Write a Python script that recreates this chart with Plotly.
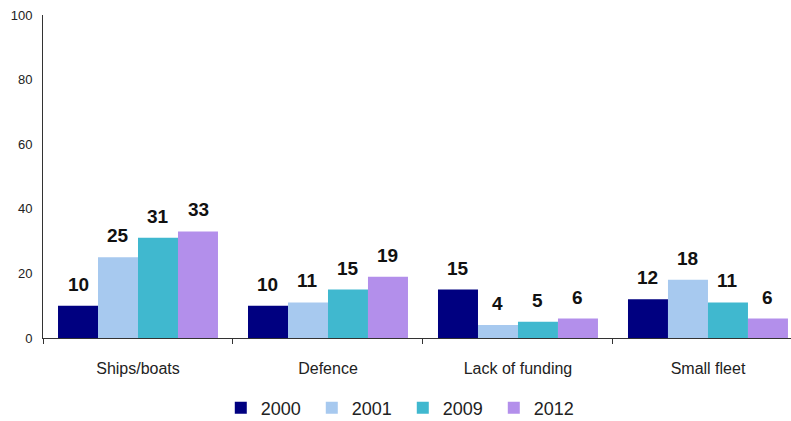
import plotly.graph_objects as go

categories = ["Ships/boats", "Defence", "Lack of funding", "Small fleet"]
years = ["2000", "2001", "2009", "2012"]
v2000 = [10, 10, 15, 12]
v2001 = [25, 11, 4, 18]
v2009 = [31, 15, 5, 11]
v2012 = [33, 19, 6, 6]
y_ticks = [0, 20, 40, 60, 80, 100]

series = [v2000, v2001, v2009, v2012]
colors = ["#000080", "#A7C9EF", "#40B8CF", "#B38FEB"]

narrow = "Liberation Sans Narrow, Arial Narrow, Liberation Sans, Arial, sans-serif"

fig = go.Figure()
for yr, vals, col in zip(years, series, colors):
    fig.add_trace(go.Bar(
        x=categories, y=vals, name=yr, marker=dict(color=col, line=dict(width=0)),
    ))

# data labels
offsets = [-60, -20, 20, 60]
for vals, off in zip(series, offsets):
    for c, v in zip(categories, vals):
        fig.add_annotation(
            x=c, y=v, text="<b>" + str(v) + "</b>", showarrow=False, xshift=off, yshift=9,
            yanchor="bottom", font=dict(family="Liberation Sans, Arial, sans-serif", size=19, color="#111111"),
            xref="x", yref="y",
        )

fig.update_layout(
    width=791, height=421,
    margin=dict(l=43, r=0, t=15, b=83),
    paper_bgcolor="white", plot_bgcolor="white",
    barmode="group", bargap=0.158, bargroupgap=0,
    showlegend=True,
    legend=dict(orientation="h", x=0.481, xanchor="center",
                yref="container", y=0.031, yanchor="middle",
                font=dict(family=narrow, size=18, color="#222222"),
                itemwidth=30, entrywidth=46, tracegroupgap=0),
    xaxis=dict(
        range=[-0.5, 3.437], showline=True, linecolor="#333333", linewidth=1,
        ticks="outside", tickson="boundaries", ticklen=5, tickcolor="#333333",
        tickfont=dict(family=narrow, size=16, color="#222222"), showgrid=False,
        ticklabelstandoff=16, automargin=False,
    ),
    yaxis=dict(
        range=[0, 100], tickvals=y_ticks, showline=True, linecolor="#333333", linewidth=1,
        ticks="", showgrid=False, zeroline=False, automargin=False,
        ticklabelstandoff=7,
        tickfont=dict(family="Liberation Sans, Arial, sans-serif", size=13, color="#222222"),
    ),
)

fig.write_html("out.html", config={"displayModeBar": False},
               post_script="document.body.style.margin='0';")
